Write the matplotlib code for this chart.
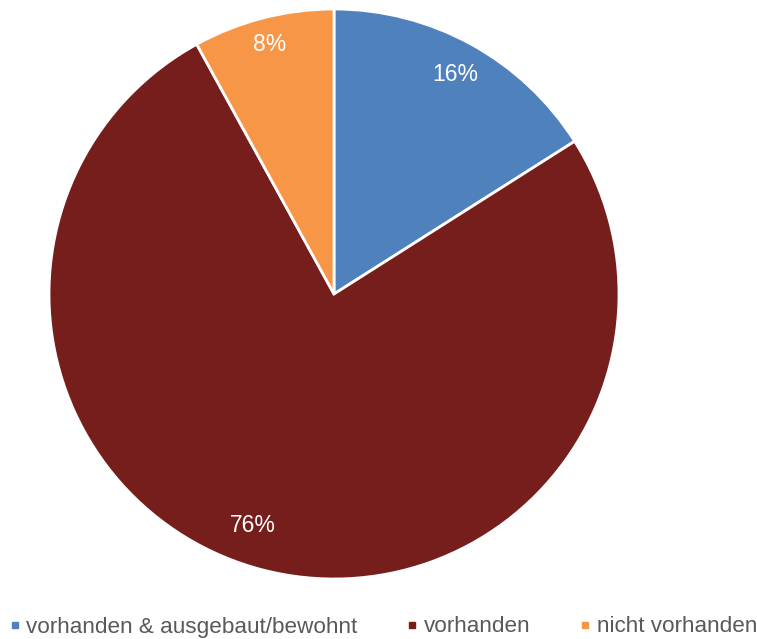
import matplotlib
matplotlib.use("Agg")
import numpy as np
import matplotlib.pyplot as plt
from matplotlib.lines import Line2D

categories = ["vorhanden & ausgebaut/bewohnt", "vorhanden", "nicht vorhanden"]
values = [16, 76, 8]
colors = ["#4F81BD", "#761E1C", "#F79646"]

plt.rcParams['font.family'] = ['Liberation Sans', 'DejaVu Sans']

fig = plt.figure(figsize=(7.57, 6.39), dpi=100)
ax = fig.add_axes([49/757, 60/639, 570/757, 570/639])
wedges, texts, autotexts = ax.pie(
    values, colors=colors, startangle=90, counterclock=False,
    autopct=lambda p: f"{p:.0f}%", pctdistance=0.88,
    wedgeprops=dict(edgecolor="white", linewidth=2),
    textprops=dict(color="white", fontsize=16.5))
# label placement (best-fit style offsets: radius, angle shift in degrees)
label_style = [(0.88, 0.0), (0.86, -5.0), (0.905, 0.0)]
for w, t, (r, dtheta) in zip(wedges, autotexts, label_style):
    ang = np.deg2rad((w.theta1 + w.theta2) / 2 + dtheta)
    t.set_position((r * np.cos(ang), r * np.sin(ang)))
ax.set_xlim(-1, 1)
ax.set_ylim(-1, 1)
ax.set_aspect('auto')
ax.axis('off')

handles = [Line2D([], [], marker='s', linestyle='none', markersize=5,
                  markerfacecolor=c, markeredgecolor=c) for c in colors]
fig.legend(handles, categories, loc='center', bbox_to_anchor=(383/757, 1 - 627/639),
           ncol=3, frameon=False, fontsize=16.2, labelcolor="#595959",
           handlelength=0.5, handletextpad=0.25, columnspacing=2.2)

fig.savefig("out.png", dpi=100)
